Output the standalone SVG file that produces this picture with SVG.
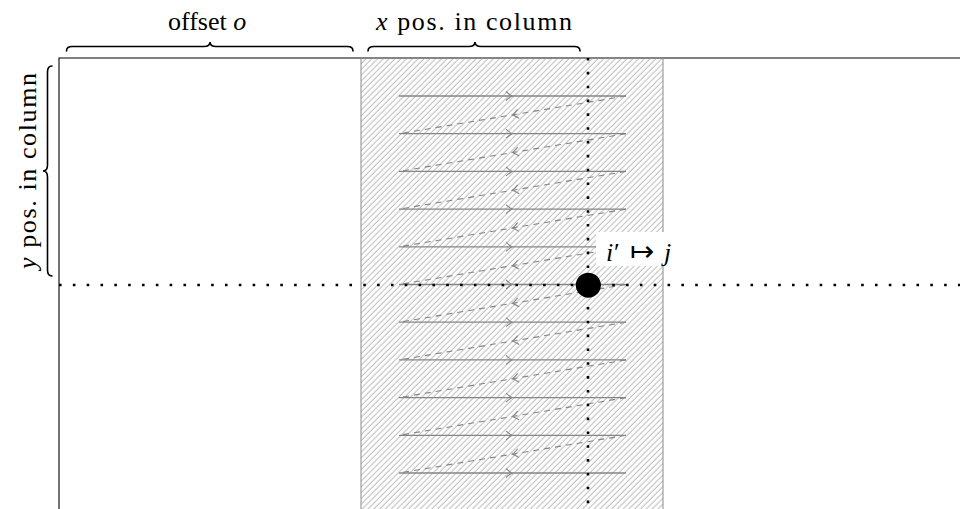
<svg xmlns="http://www.w3.org/2000/svg" width="960" height="509" viewBox="0 0 960 509">
<style>
.lbl{font-family:"Liberation Serif","DejaVu Serif",serif;font-size:26px;fill:#000}
.it{font-style:italic}
.brace{fill:none;stroke:#000;stroke-width:1.6;stroke-linecap:round}
.frame{fill:none;stroke:#000;stroke-width:1.1}
.solid{fill:none;stroke:#858585;stroke-width:1.3;marker-mid:url(#arr)}
.dash{fill:none;stroke:#858585;stroke-width:1.1;stroke-dasharray:6 5;marker-mid:url(#arr)}
.dot{fill:none;stroke:#000;stroke-width:2.6;stroke-dasharray:2.6 11.23}
</style>
<defs>
<pattern id="hatch" patternUnits="userSpaceOnUse" width="4.1" height="10" patternTransform="rotate(45)">
<line x1="1" y1="0" x2="1" y2="10" stroke="#949494" stroke-width="0.7"/>
</pattern>
<marker id="arr" markerUnits="userSpaceOnUse" markerWidth="12" markerHeight="12" refX="0" refY="0" viewBox="-8 -6 12 12" orient="auto" overflow="visible">
<path d="M-6,-4.5 Q-2,-1 0,0 Q-2,1 -6,4.5" fill="none" stroke="#858585" stroke-width="1.1"/>
</marker>
</defs>
<rect width="960" height="509" fill="#fff"/>
<g id="matrix">
<path class="frame" d="M59,515 V58 H960"/>
</g>
<g id="column">
<rect x="361" y="58" width="302" height="460" fill="url(#hatch)" stroke="#8a8a8a" stroke-width="1"/>
</g>
<g id="connectors">
<path class="solid" d="M399,96 H512 H626"/>
<path class="solid" d="M399,133.7 H512 H626"/>
<path class="solid" d="M399,171.4 H512 H626"/>
<path class="solid" d="M399,209.1 H512 H626"/>
<path class="solid" d="M399,246.8 H512 H626"/>
<path class="solid" d="M399,284.5 H512 H626"/>
<path class="solid" d="M399,322.2 H512 H626"/>
<path class="solid" d="M399,359.9 H512 H626"/>
<path class="solid" d="M399,397.6 H512 H626"/>
<path class="solid" d="M399,435.3 H512 H626"/>
<path class="solid" d="M399,473 H512 H626"/>
<path class="dash" d="M626,96 L512.5,114.85 L399,133.7"/>
<path class="dash" d="M626,133.7 L512.5,152.55 L399,171.4"/>
<path class="dash" d="M626,171.4 L512.5,190.25 L399,209.1"/>
<path class="dash" d="M626,209.1 L512.5,227.95 L399,246.8"/>
<path class="dash" d="M626,246.8 L512.5,265.65 L399,284.5"/>
<path class="dash" d="M626,284.5 L512.5,303.35 L399,322.2"/>
<path class="dash" d="M626,322.2 L512.5,341.05 L399,359.9"/>
<path class="dash" d="M626,359.9 L512.5,378.75 L399,397.6"/>
<path class="dash" d="M626,397.6 L512.5,416.45 L399,435.3"/>
<path class="dash" d="M626,435.3 L512.5,454.15 L399,473"/>
</g>
<g id="guides">
<path class="dot" d="M59,285 H960"/>
<path class="dot" d="M588,58 V509"/>
</g>
<g id="point">
<circle cx="588.3" cy="285.2" r="12.5" fill="#000"/>
</g>
<g id="point-label">
<rect x="596" y="232" width="90" height="34" fill="#fff"/>
<text class="lbl" y="261"><tspan x="606" class="it">i</tspan><tspan x="614">′</tspan><tspan x="630" font-family="DejaVu Sans, sans-serif" font-weight="200" font-size="29">↦</tspan><tspan x="664" class="it">j</tspan></text>
</g>
<g id="brace-offset">
<path class="brace" d="M66.5,51 Q66.5,46.5 72,46.5 L204,46.5 Q210,46.5 210,42 Q210,46.5 216,46.5 L347.5,46.5 Q353,46.5 353,51"/>
<text class="lbl" x="168" y="30">offset <tspan class="it">o</tspan></text>
</g>
<g id="brace-x">
<path class="brace" d="M368,51 Q368,46.5 374,46.5 L469,46.5 Q475,46.5 475,42 Q475,46.5 481,46.5 L574.5,46.5 Q580,46.5 580,51"/>
<text class="lbl" x="376" y="30" textLength="196" lengthAdjust="spacing"><tspan class="it">x</tspan> pos.  in column</text>
</g>
<g id="brace-y">
<path class="brace" d="M52,66 Q47.5,66 47.5,72 L47.5,165 Q47.5,171 43,171 Q47.5,171 47.5,177 L47.5,270 Q47.5,276 52,276"/>
<text class="lbl" transform="translate(35.5,269) rotate(-90)" x="0" y="0" textLength="196" lengthAdjust="spacing"><tspan class="it">y</tspan> pos.  in column</text>
</g>
</svg>
